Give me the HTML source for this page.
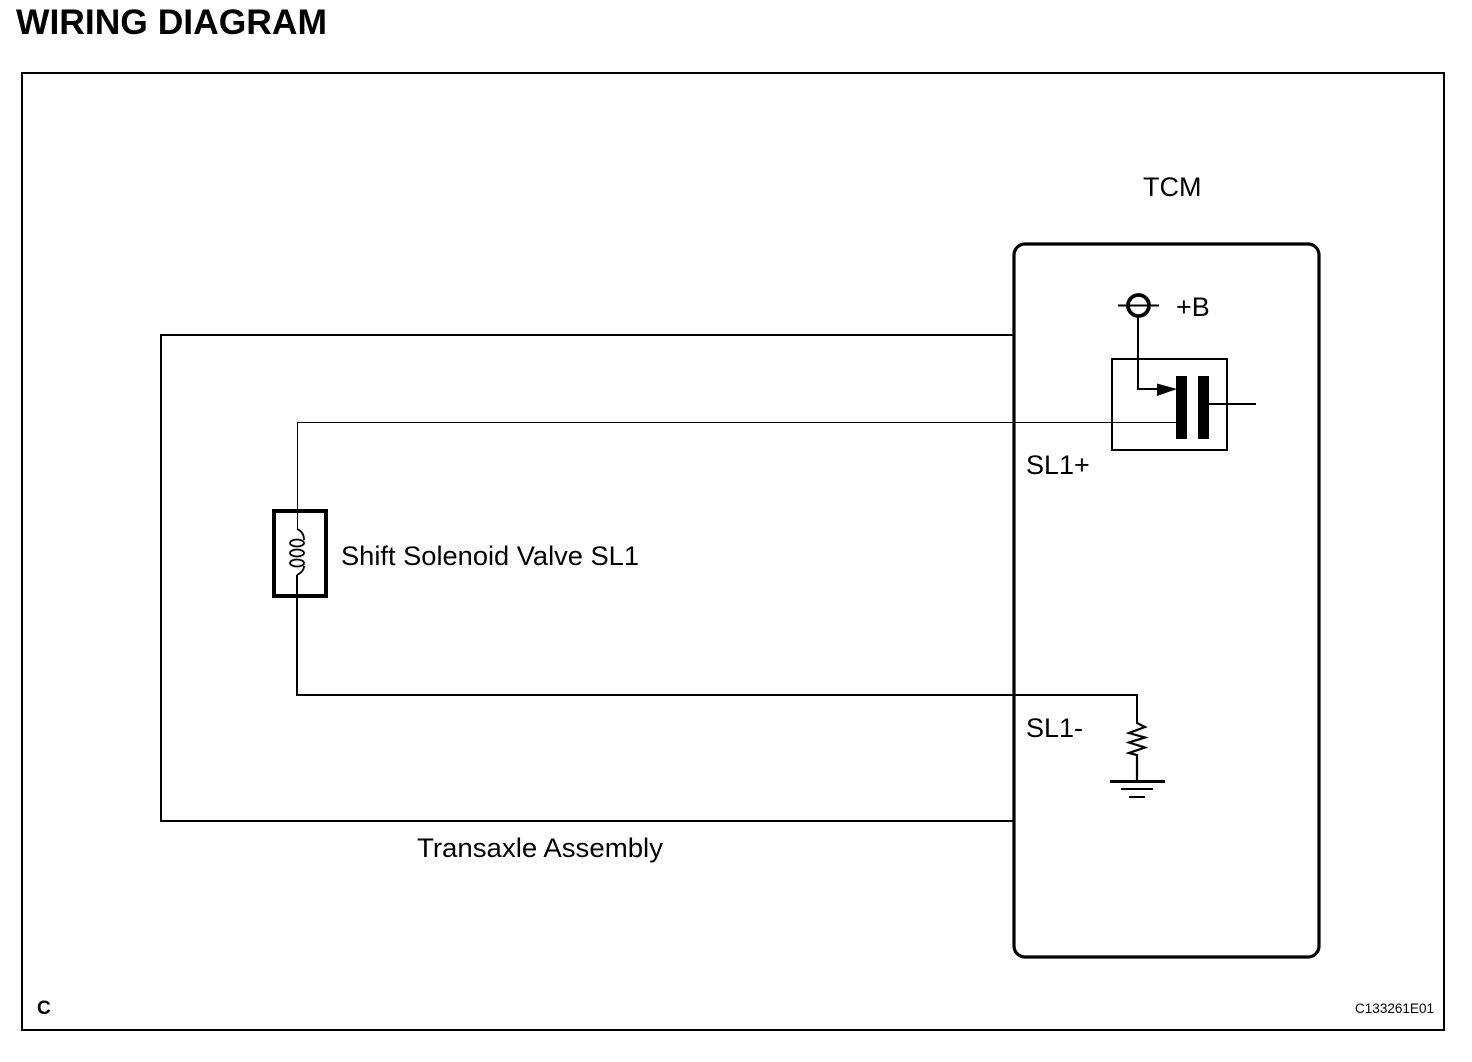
<!DOCTYPE html>
<html><head><meta charset="utf-8"><style>html,body{margin:0;padding:0;background:#fff}svg{display:block}text{font-family:"Liberation Sans",sans-serif;fill:#000}</style></head>
<body>
<svg width="1472" height="1062" viewBox="0 0 1472 1062" xmlns="http://www.w3.org/2000/svg">
<rect width="1472" height="1062" fill="#fff"/>
<text x="16" y="34" font-size="35" font-weight="bold" textLength="311" lengthAdjust="spacingAndGlyphs">WIRING DIAGRAM</text>
<rect x="22" y="73" width="1422" height="957" fill="none" stroke="#000" stroke-width="2" shape-rendering="crispEdges"/>
<rect x="1014" y="244" width="305" height="713" rx="11" ry="11" fill="none" stroke="#000" stroke-width="3.200"/>
<path d="M1014 335H161V821H1014" fill="none" stroke="#000" stroke-width="2" shape-rendering="crispEdges"/>
<path d="M1176 422.500H297.500V530" fill="none" stroke="#000" stroke-width="1" shape-rendering="crispEdges"/>
<path d="M297 575V695H1137V724" fill="none" stroke="#000" stroke-width="2" shape-rendering="crispEdges"/>
<rect x="274" y="511" width="52" height="85" fill="none" stroke="#000" stroke-width="4" shape-rendering="crispEdges"/>
<path d="M297 529C302 531 304 535 304 540M304 566C304 570 301 573 297 575" fill="none" stroke="#000" stroke-width="1.800"/>
<ellipse cx="297" cy="543" rx="7" ry="3.500" fill="none" stroke="#000" stroke-width="1.800"/>
<ellipse cx="297" cy="553" rx="7" ry="3.500" fill="none" stroke="#000" stroke-width="1.800"/>
<ellipse cx="297" cy="563" rx="7" ry="3.500" fill="none" stroke="#000" stroke-width="1.800"/>
<circle cx="1138.500" cy="305.500" r="10.500" fill="none" stroke="#000" stroke-width="3.800"/>
<path d="M1118 305.500H1159" stroke="#000" stroke-width="2"/>
<path d="M1138 317V389H1160" fill="none" stroke="#000" stroke-width="2" shape-rendering="crispEdges"/>
<polygon points="1157,383.500 1177,389 1157,396" fill="#000"/>
<rect x="1112" y="359" width="115" height="91" fill="none" stroke="#000" stroke-width="2" shape-rendering="crispEdges"/>
<rect x="1176" y="376" width="11" height="63" fill="#000"/>
<rect x="1198" y="376" width="11" height="63" fill="#000"/>
<path d="M1209 404H1256" stroke="#000" stroke-width="2" shape-rendering="crispEdges"/>
<path d="M1137 723L1145 727L1129 733L1145 737.500L1129 742.500L1145 747.500L1129 753L1137 755V781" fill="none" stroke="#000" stroke-width="2.200"/>
<rect x="1110" y="780" width="55" height="3" fill="#000"/>
<rect x="1121" y="788" width="32" height="2" fill="#000"/>
<rect x="1129" y="796" width="16" height="2" fill="#000"/>
<text x="1143" y="196" font-size="27">TCM</text>
<text x="1176" y="316" font-size="27">+B</text>
<text x="1026" y="474" font-size="27">SL1+</text>
<text x="1026" y="737" font-size="27">SL1-</text>
<text x="341" y="565" font-size="27" textLength="298" lengthAdjust="spacingAndGlyphs">Shift Solenoid Valve SL1</text>
<text x="417" y="857" font-size="27" textLength="246" lengthAdjust="spacingAndGlyphs">Transaxle Assembly</text>
<text x="37" y="1014" font-size="19" font-weight="bold">C</text>
<text x="1355" y="1013" font-size="13.500" textLength="79" lengthAdjust="spacingAndGlyphs">C133261E01</text>
</svg>
</body></html>
